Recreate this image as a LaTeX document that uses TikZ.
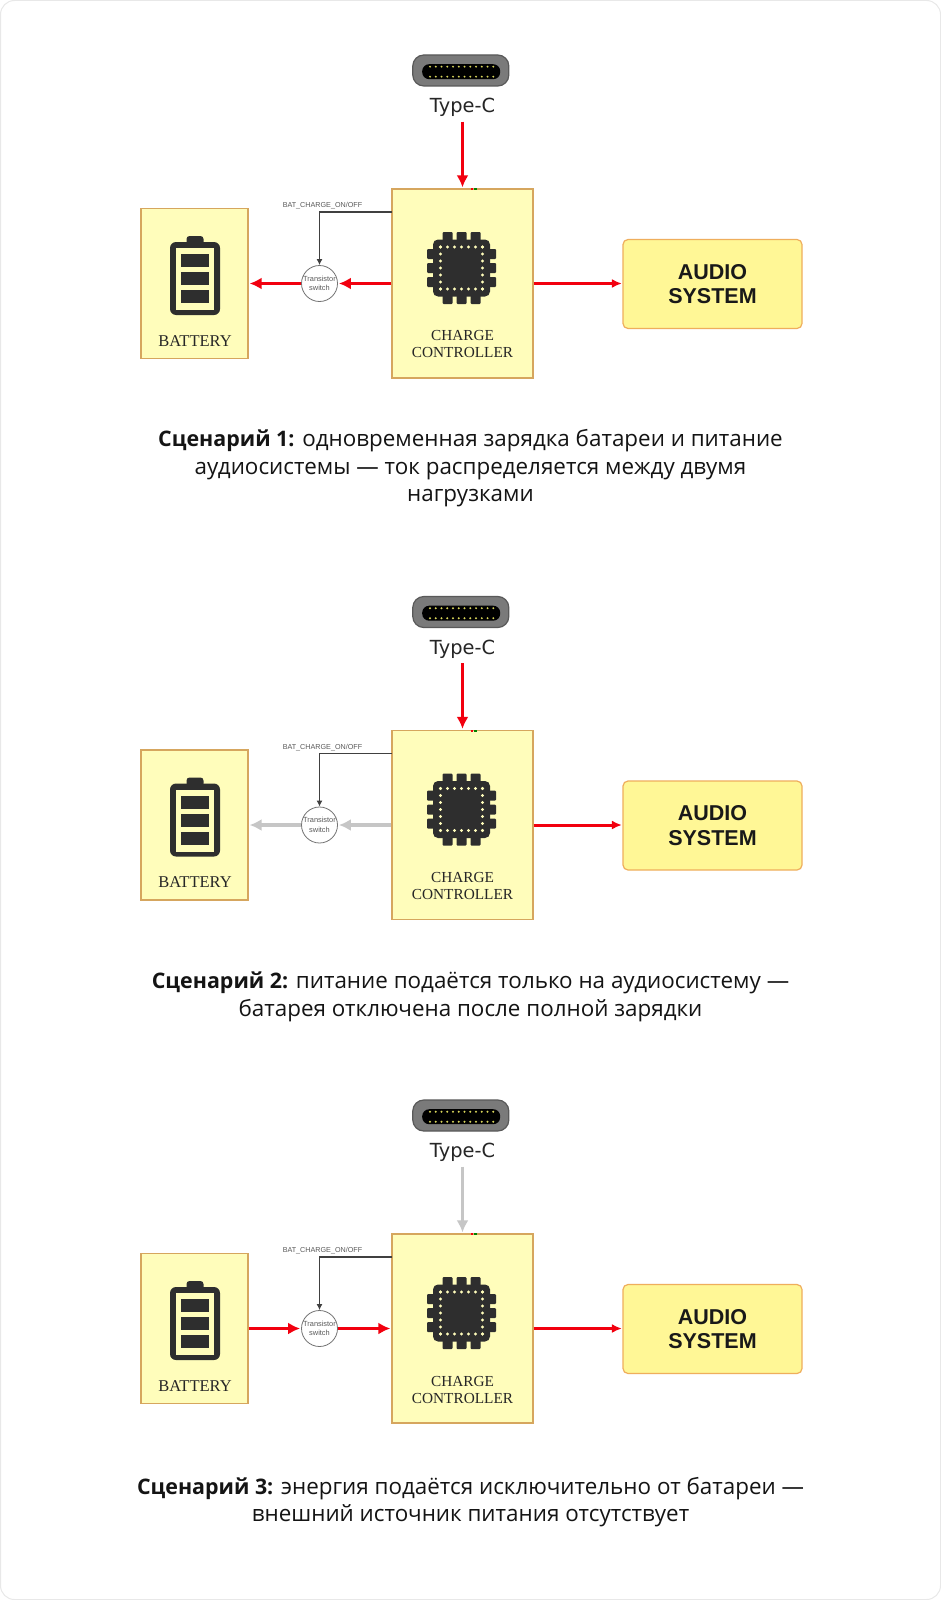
\documentclass[tikz,border=0pt]{standalone}
\usepackage{fontspec}
\setmainfont{Open Sans}
\newfontfamily\serifname{Liberation Serif}
\newfontfamily\arialname{Liberation Sans}
\newfontfamily\dejaname{DejaVu Sans}
\usetikzlibrary{arrows.meta,positioning,calc}

\definecolor{boxfill}{HTML}{FFFDBB}
\definecolor{boxline}{HTML}{D6A65E}
\definecolor{audiofill}{HTML}{FFF796}
\definecolor{audioline}{HTML}{EFAE5C}
\definecolor{flowred}{HTML}{F2000F}
\definecolor{flowoff}{HTML}{C6C6C6}
\definecolor{icondark}{HTML}{2E2E2E}
\definecolor{usbpin}{HTML}{D8D45A}

\newcommand{\scn}[1]{{\fontsize{21.4}{27.5}\selectfont\bfseries #1}}

\begin{document}
\begin{tikzpicture}[
  x=1pt, y=-1pt,
  block/.style={rectangle, draw=boxline, fill=boxfill, line width=1.3pt, inner sep=0pt},
  audio/.style={rectangle, rounded corners=5pt, draw=audioline, fill=audiofill, line width=1.2pt,
    minimum width=179pt, minimum height=89pt, inner sep=0pt, align=center, text=black!90,
    font=\arialname\bfseries\fontsize{21.5}{25}\selectfont},
  switchnode/.style={circle, draw=black!55, fill=white, line width=0.8pt, minimum size=36pt, inner sep=0pt,
    align=center, text=black!65, font=\arialname\fontsize{7.4}{8.6}\selectfont},
  usbshell/.style={rectangle, rounded corners=11pt, draw=black!65, fill=black!52, line width=1.2pt,
    minimum width=96pt, minimum height=31pt, inner sep=0pt},
  usbcore/.style={rectangle, rounded corners=7pt, fill=black, minimum width=78pt, minimum height=15pt, inner sep=0pt},
  typec/.style={inner sep=0pt, minimum height=28pt, font=\dejaname\fontsize{19.4}{24}\selectfont, text=black!85},
  serif/.style={inner sep=0pt, align=center, text=black!85, font=\serifname\fontsize{15.3}{17}\selectfont},
  sig/.style={inner sep=0pt, text=black!65, font=\arialname\fontsize{7.2}{8}\selectfont},
  caption/.style={inner sep=0pt, align=center, text=black!92, font=\fontsize{22.4}{27.5}\selectfont},
  edge/.style={-{Latex[length=12pt,width=12pt]}, line width=3.2pt, shorten >=1pt},
  flow/.style={edge, flowred},
  idle/.style={edge, flowoff},
  sysflow/.style={-{Latex[length=10pt,width=9pt]}, line width=3pt, shorten >=0.5pt, flowred},
  ctl/.style={-{Latex[length=6pt,width=6pt]}, line width=1.2pt, black!75},
  chipicon/.pic={
    \fill[icondark, rounded corners=5pt] (-28.5,-28.5) rectangle (28.5,28.5);
    \foreach \p in {-14,0,14} {
      \fill[icondark, rounded corners=1pt] (\p-5,-36) rectangle (\p+5,36);
      \fill[icondark, rounded corners=1pt] (-34.5,\p-5) rectangle (34.5,\p+5);
    }
    \foreach \p in {-21,-14,-7,0,7,14,21} {
      \fill[boxfill] (\p,-21) circle (1.6);
      \fill[boxfill] (\p,21) circle (1.6);
      \fill[boxfill] (-21,\p) circle (1.6);
      \fill[boxfill] (21,\p) circle (1.6);
    }
  },
  batticon/.pic={
    \fill[icondark, rounded corners=3pt] (-8.5,-43) rectangle (8.5,-34);
    \fill[icondark, rounded corners=6pt] (-25,-37) rectangle (25,36);
    \fill[boxfill] (-19,-31) rectangle (19,31);
    \foreach \c in {-25,-7,11} {
      \fill[icondark] (-14,\c) rectangle (14,\c+13.3);
    }
  }
]

% --- page ---
\useasboundingbox (0,0) rectangle (941,1600);
\draw[draw=black!9, fill=white, line width=1pt, rounded corners=14pt] (0.5,0.5) rectangle (940.5,1599.5);

% --- the three panels (absolute placement, one offset each) ---
\foreach \n/\dy in {a/0, b/541.5, c/1045} {
  \begin{scope}[shift={(0,\dy)}]
    % connector
    \node[usbshell] (usb\n) at (460.8,70.5) {};
    \node[usbcore] (core\n) at (461.2,71.7) {};
    \foreach \i in {0,...,11} {
      \fill[usbpin] (430+\i*5.75,66.7) circle (1.05);
      \fill[usbpin] (430+\i*5.75,76.7) circle (1.05);
    }
    \node[typec] (type\n) at (462.5,107.5) {Type-C};
    % boxes
    \node[block, minimum width=141pt, minimum height=189pt] (ctrl\n) at (462.5,283.5) {};
    \node[block, minimum width=107pt, minimum height=150pt] (batt\n) at (194.5,283.5) {};
    \node[audio] (sys\n) at (712.5,284) {AUDIO\\[-0.2pt]SYSTEM};
    \node[switchnode] (sw\n) at (319.5,283.5) {Transistor\\[1pt]switch};
    % icons and captions of the boxes
    \pic at (461.5,268) {chipicon};
    \pic at (195,279) {batticon};
    \node[serif, font=\serifname\fontsize{16.5}{17}\selectfont] (batlab\n) at (195,341) {BATTERY};
    \node[serif] (ctrllab\n) at (462.5,344.5) {CHARGE\\CONTROLLER};
    \fill[flowred] (470.5,188) rectangle (473,190);
    \fill[green!50!black] (474,188) rectangle (476.5,190);
    % control line
    \coordinate (out\n) at (392,212);
    \node[sig] (siglab\n) at (322.5,206) {BAT\_CHARGE\_ON/OFF};
    \draw[ctl] (out\n) -| (sw\n);
    % always on
    \draw[sysflow] (ctrl\n) -- (ctrl\n -| sys\n.west);
  \end{scope}
}

% --- edges ---
% first: everything on
\draw[flow] (typea) -- (ctrla);
\draw[flow] (ctrla) -- (swa);
\draw[flow] (swa) -- (batta);

% second: battery off
\draw[flow] (typeb) -- (ctrlb);
\draw[idle] (ctrlb) -- (swb);
\draw[idle] (swb) -- (battb);

% third: from the battery
\draw[idle] (typec) -- (ctrlc);
\draw[flow] (battc) -- (swc);
\draw[flow] (swc) -- (ctrlc);

% --- scenario texts ---
\node[caption] (capa) at (470.5,468.5) {\scn{Сценарий 1:} одновременная зарядка батареи и питание\\
  аудиосистемы — ток распределяется между двумя\\нагрузками};
\node[caption] (capb) at (470.5,997) {\scn{Сценарий 2:} питание подаётся только на аудиосистему —\\
  батарея отключена после полной зарядки};
\node[caption] (capc) at (470.5,1502) {\scn{Сценарий 3:} энергия подаётся исключительно от батареи —\\
  внешний источник питания отсутствует};

\end{tikzpicture}
\end{document}
